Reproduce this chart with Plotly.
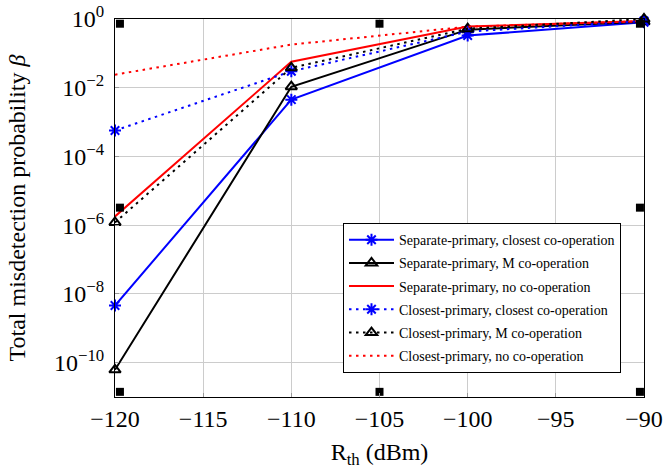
import plotly.graph_objects as go

# ---- data ----
r_th = [-120, -110, -100, -90]
sep_closest = [4.6e-9, 4.5e-3, 0.33, 0.80]
sep_m = [6.2e-11, 1.07e-2, 0.49, 0.83]
sep_none = [1.8e-6, 0.057, 0.60, 0.88]
clo_closest = [5.7e-4, 0.030, 0.43, 0.87]
clo_m = [1.2e-6, 0.038, 0.52, 1.0]
clo_none = [0.024, 0.18, 0.60, 0.86]

x_ticks = [-120, -115, -110, -105, -100, -95, -90]
x_ticktext = ["−120", "−115", "−110", "−105", "−100", "−95", "−90"]
y_ticks = [1e-10, 1e-8, 1e-6, 1e-4, 1e-2, 1]
y_ticktext = ["10<sup>−10</sup>", "10<sup>−8</sup>", "10<sup>−6</sup>",
              "10<sup>−4</sup>", "10<sup>−2</sup>", "10<sup>0</sup>"]

# decorative square anchors seen in the reference (box corners / midpoints)
frame_x = [-119.72, -105, -90.23, -119.72, -90.23, -119.72, -105, -90.23]
frame_y = [10**-0.137, 10**-0.137, 10**-0.137, 10**-5.49, 10**-5.49,
           10**-10.85, 10**-10.85, 10**-10.85]

FONT = "Liberation Serif, Times New Roman, DejaVu Serif, serif"
DOTS = "2.5px,4.5px"

series = [
    ("Separate-primary, closest co-operation", sep_closest, "blue", "solid", "asterisk-open"),
    ("Separate-primary, M co-operation", sep_m, "black", "solid", "triangle-up-open"),
    ("Separate-primary, no co-operation", sep_none, "red", "solid", None),
    ("Closest-primary, closest co-operation", clo_closest, "blue", DOTS, "asterisk-open"),
    ("Closest-primary, M co-operation", clo_m, "black", DOTS, "triangle-up-open"),
    ("Closest-primary, no co-operation", clo_none, "red", DOTS, None),
]

fig = go.Figure()
for i, (name, vals, color, dash, sym) in enumerate(series):
    kw = dict(mode="lines")
    if sym:
        kw = dict(mode="lines+markers",
                  marker=dict(symbol=sym, size=10, color=color,
                              line=dict(color=color, width=2)))
    fig.add_trace(go.Scatter(
        x=r_th, y=vals, name=name, legendgroup=str(i),
        line=dict(color=color, width=2, dash=dash),
        cliponaxis=False, **kw))

fig.add_trace(go.Scatter(
    x=frame_x, y=frame_y, mode="markers", showlegend=False, hoverinfo="skip",
    marker=dict(symbol="square", size=8, color="black"), cliponaxis=False))

fig.update_layout(
    width=667, height=469,
    margin=dict(l=115, r=23, t=19, b=72),
    paper_bgcolor="white", plot_bgcolor="white",
    font=dict(family=FONT, color="black", size=24),
    legend=dict(x=0.431, y=0.46, xanchor="left", yanchor="top",
                bgcolor="white", bordercolor="black", borderwidth=1,
                font=dict(family=FONT, size=14, color="black"),
                itemwidth=45, tracegroupgap=2),
    xaxis=dict(range=[-120, -90], tickvals=x_ticks, ticktext=x_ticktext,
               automargin=False,
               showgrid=True, gridcolor="#cccccc", gridwidth=1,
               showline=True, linecolor="black", linewidth=1, mirror=True,
               ticks="inside", ticklen=4, tickcolor="#999999",
               tickfont=dict(size=24, family=FONT),
               title=dict(text="R<sub>th</sub> (dBm)", font=dict(size=24, family=FONT),
                          standoff=17),
               zeroline=False),
    yaxis=dict(type="log", range=[-11, 0], tickvals=y_ticks, ticktext=y_ticktext,
               automargin=False, ticklabelstandoff=5,
               showgrid=True, gridcolor="#cccccc", gridwidth=1,
               showline=True, linecolor="black", linewidth=1, mirror=True,
               ticks="inside", ticklen=4, tickcolor="#999999",
               tickfont=dict(size=24, family=FONT),
               title=dict(text="Total misdetection probability <i>β</i>",
                          font=dict(size=24, family=FONT), standoff=21),
               zeroline=False),
)

fig.write_html("out.html", config={"displayModeBar": False},
               post_script="document.body.style.margin='0';")
